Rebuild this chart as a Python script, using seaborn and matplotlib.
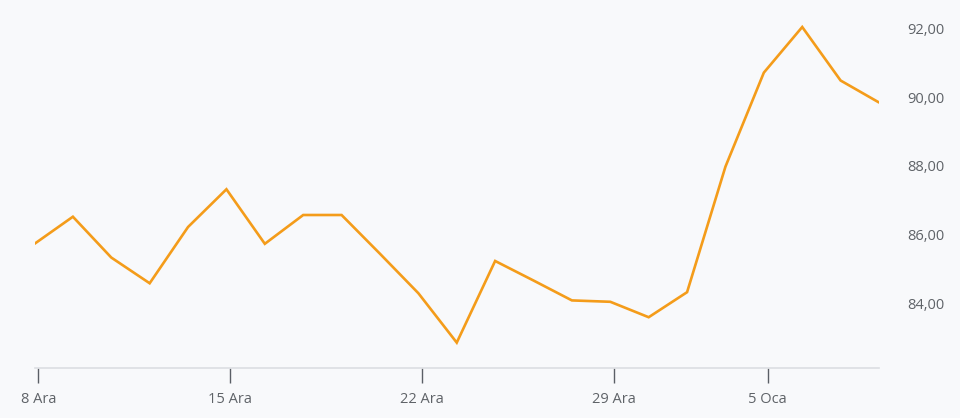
import matplotlib
matplotlib.use("Agg")
import matplotlib.pyplot as plt
import seaborn as sns
import pandas as pd

# Daily closing prices (trading days only)
dates = [
    "2025-12-08", "2025-12-09", "2025-12-10", "2025-12-11", "2025-12-12",
    "2025-12-15", "2025-12-16", "2025-12-17", "2025-12-18", "2025-12-19",
    "2025-12-22", "2025-12-23", "2025-12-24", "2025-12-25", "2025-12-26",
    "2025-12-29", "2025-12-30", "2025-12-31", "2026-01-02",
    "2026-01-05", "2026-01-06", "2026-01-07", "2026-01-08",
]
prices = [
    85.73, 86.52, 85.33, 84.58, 86.22,
    87.32, 85.73, 86.57, 86.57, 85.44,
    84.29, 82.85, 85.23, 84.66, 84.08,
    84.04, 83.59, 84.32, 87.98,
    90.72, 92.05, 90.49, 89.85,
]
tick_dates = ["2025-12-08", "2025-12-15", "2025-12-22", "2025-12-29", "2026-01-05"]
tick_labels = ["8 Ara", "15 Ara", "22 Ara", "29 Ara", "5 Oca"]
y_ticks = [84, 86, 88, 90, 92]

BG = "#f8f9fb"
LINE = "#f49c1a"
TEXT = "#5f6368"

sns.set_theme(style="white")
plt.rcParams["font.family"] = ["Open Sans", "DejaVu Sans"]

df = pd.DataFrame({"date": dates, "price": prices})
df["pos"] = range(len(df))

fig = plt.figure(figsize=(9.6, 4.18), dpi=100, facecolor=BG)
ax = fig.add_axes([34.5 / 960, (418 - 368) / 418, (879 - 34.5) / 960, (368 - 15) / 418])
ax.set_facecolor(BG)

sns.lineplot(data=df, x="pos", y="price", ax=ax, color=LINE, linewidth=1.9,
             solid_joinstyle="miter")

ax.set_xlim(0, len(df) - 1)
ax.set_ylim(82.11, 92.4)

# x axis: weekly ticks on Mondays
pos_of = dict(zip(df["date"], df["pos"]))
ax.set_xticks([pos_of[d] + 0.1 for d in tick_dates])
ax.set_xticklabels(tick_labels)
ax.tick_params(axis="x", direction="out", length=11, width=1.0, color="#5a5f66",
               labelsize=10.5, labelcolor=TEXT, pad=6, bottom=True)

# y axis on the right with Turkish decimal format
ax.yaxis.tick_right()
ax.set_yticks(y_ticks)
ax.set_yticklabels([f"{v:.2f}".replace(".", ",") for v in y_ticks])
ax.tick_params(axis="y", length=0, labelsize=10.5, labelcolor=TEXT, pad=20)

for side in ("top", "left", "right"):
    ax.spines[side].set_visible(False)
ax.spines["bottom"].set_color("#dcdee2")
ax.spines["bottom"].set_linewidth(1.2)

ax.set_xlabel("")
ax.set_ylabel("")
ax.grid(False)

fig.savefig("out.png", dpi=100, facecolor=BG)
